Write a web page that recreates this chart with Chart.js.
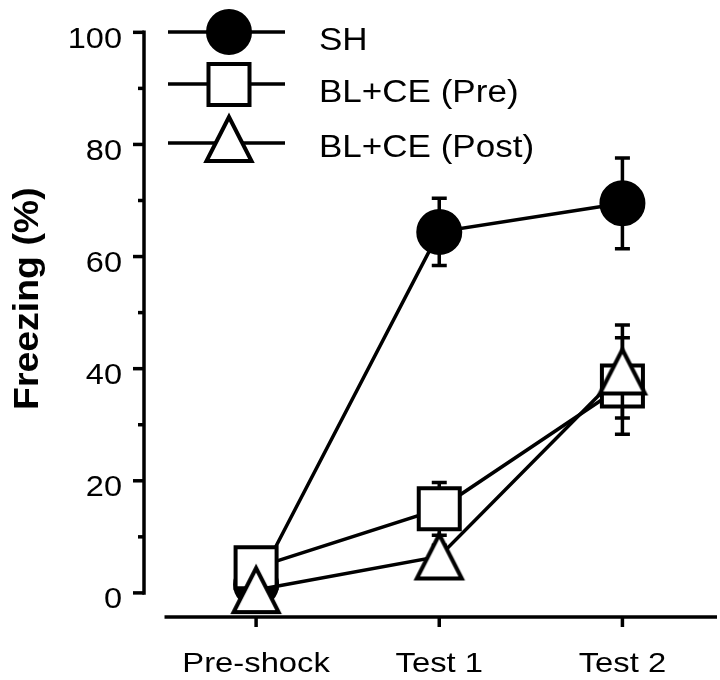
<!DOCTYPE html>
<html>
<head>
<meta charset="utf-8">
<script src="https://cdn.jsdelivr.net/npm/chart.js@4"></script>
<style>
  html, body { margin: 0; padding: 0; background: #fff; }
  #wrap { width: 720px; height: 680px; }
</style>
</head>
<body>
<div id="wrap"><canvas id="freezingChart" width="720" height="680"></canvas></div>
<script>
// data
const categories = ['Pre-shock', 'Test 1', 'Test 2'];
const seriesNames = ['SH', 'BL+CE (Pre)', 'BL+CE (Post)'];
const shMean = [1.5, 64.4, 69.5];
const shErr = [1, 6, 8.1];
const preMean = [4.5, 15, 36.9];
const preErr = [1, 4.7, 8.6];
const postMean = [0.5, 6.5, 39.5];
const postErr = [1, 2, 8.3];
const yTicks = [0, 20, 40, 60, 80, 100];
const yMinorTicks = [10, 30, 50, 70, 90];
const yTitle = 'Freezing (%)';

const FONT = '"Liberation Sans", Arial, Helvetica, sans-serif';
const LW = 3.5;

// the scanned figure's lettering is a little wider than Arial, so stretch it
function stretchText(ctx, text, x, y, size, align, sx, weight) {
    ctx.save();
    ctx.font = (weight || 'normal') + ' ' + size + 'px ' + FONT;
    ctx.fillStyle = '#000';
    ctx.textBaseline = 'alphabetic';
    ctx.textAlign = 'left';
    const w = ctx.measureText(text).width * sx;
    let x0 = x;
    if (align === 'center') x0 = x - w / 2;
    if (align === 'right') x0 = x - w;
    ctx.translate(x0, y);
    ctx.scale(sx, 1);
    ctx.fillText(text, 0, 0);
    ctx.restore();
}

// open triangle, a bit taller than equilateral like the original
function makeTriangle() {
    const c = document.createElement('canvas');
    c.width = 54; c.height = 54;
    const g = c.getContext('2d');
    g.beginPath();
    g.moveTo(27, 5);
    g.lineTo(49.5, 49);
    g.lineTo(4.5, 49);
    g.closePath();
    g.fillStyle = '#fff';
    g.fill();
    g.lineWidth = 4;
    g.lineJoin = 'miter';
    g.strokeStyle = '#000';
    g.stroke();
    return c;
}
const triangleImg = makeTriangle();

function points(arr) {
    return arr.map((v, i) => ({ x: i, y: v }));
}

const markerStyles = [
    { pointStyle: 'circle', radius: 22, borderWidth: 2, backgroundColor: '#000' },
    { pointStyle: 'rect', radius: 29, borderWidth: 4, backgroundColor: '#fff' },
    { pointStyle: triangleImg, radius: 27, borderWidth: 4, backgroundColor: '#fff' }
];
const errors = [shErr, preErr, postErr];

const axesPlugin = {
    id: 'axesPlugin',
    beforeDatasetsDraw(chart) {
        const ctx = chart.ctx;
        const x = chart.scales.x, y = chart.scales.y;
        const left = chart.chartArea.left;
        const bottom = chart.chartArea.bottom;
        ctx.save();
        ctx.strokeStyle = '#000';
        ctx.lineWidth = LW;
        ctx.lineCap = 'butt';
        // y axis line
        ctx.beginPath();
        ctx.moveTo(left, y.getPixelForValue(100) - 1.75);
        ctx.lineTo(left, y.getPixelForValue(0) + 1.75);
        ctx.stroke();
        yTicks.forEach(v => {
            const py = y.getPixelForValue(v);
            ctx.beginPath();
            ctx.moveTo(left - 11, py);
            ctx.lineTo(left, py);
            ctx.stroke();
            stretchText(ctx, String(v), left - 22, py + 15.5, 29, 'right', 1.12);
        });
        yMinorTicks.forEach(v => {
            const py = y.getPixelForValue(v);
            ctx.beginPath();
            ctx.moveTo(left - 6, py);
            ctx.lineTo(left, py);
            ctx.stroke();
        });
        // x axis line
        ctx.beginPath();
        ctx.moveTo(x.getPixelForValue(-0.5), bottom);
        ctx.lineTo(x.getPixelForValue(2.5) + 3, bottom);
        ctx.stroke();
        categories.forEach((c, i) => {
            const px = x.getPixelForValue(i);
            ctx.beginPath();
            ctx.moveTo(px, bottom);
            ctx.lineTo(px, bottom + 10);
            ctx.stroke();
            stretchText(ctx, c, px, 672, 28, 'center', 1.17);
        });
        // axis title
        ctx.save();
        ctx.translate(38, 410);
        ctx.rotate(-Math.PI / 2);
        stretchText(ctx, yTitle, 0, 0, 35, 'left', 1.07, 'bold');
        ctx.restore();
        ctx.restore();
    },
    // error bars sit just under each series' markers
    beforeDatasetDraw(chart, args) {
        const ctx = chart.ctx;
        const x = chart.scales.x, y = chart.scales.y;
        const ds = chart.data.datasets[args.index];
        const err = errors[args.index];
        ctx.save();
        ctx.strokeStyle = '#000';
        ctx.lineWidth = LW;
        ds.data.forEach((p, i) => {
            const px = x.getPixelForValue(p.x);
            const top = y.getPixelForValue(p.y + err[i]);
            const bot = y.getPixelForValue(p.y - err[i]);
            ctx.beginPath();
            ctx.moveTo(px, top);
            ctx.lineTo(px, bot);
            ctx.moveTo(px - 7.5, top);
            ctx.lineTo(px + 7.5, top);
            ctx.moveTo(px - 7.5, bot);
            ctx.lineTo(px + 7.5, bot);
            ctx.stroke();
        });
        ctx.restore();
    },
    afterDraw(chart) {
        // legend: line with marker in the middle, label to the right
        const ctx = chart.ctx;
        const rows = [32, 84, 143];
        const markerY = [32, 84.5, 139];
        const baselines = [50, 102, 157];
        ctx.save();
        seriesNames.forEach((name, i) => {
            ctx.strokeStyle = '#000';
            ctx.lineWidth = LW;
            ctx.beginPath();
            ctx.moveTo(168, rows[i]);
            ctx.lineTo(285, rows[i]);
            ctx.stroke();
            const m = markerStyles[i];
            ctx.fillStyle = m.backgroundColor;
            ctx.lineWidth = m.borderWidth;
            Chart.helpers.drawPoint(ctx, {
                pointStyle: m.pointStyle, radius: m.radius, borderWidth: m.borderWidth, rotation: 0
            }, 229, markerY[i]);
            stretchText(ctx, name, 319, baselines[i], 31, 'left', 1.13);
        });
        ctx.restore();
    }
};

const ctx = document.getElementById('freezingChart');
const freezingChart = new Chart(ctx, {
    type: 'line',
    data: {
        datasets: [
            { label: seriesNames[0], data: points(shMean), order: 3 },
            { label: seriesNames[1], data: points(preMean), order: 2 },
            { label: seriesNames[2], data: points(postMean), order: 1 }
        ].map((d, i) => Object.assign(d, {
            borderColor: '#000',
            borderWidth: LW,
            tension: 0,
            pointStyle: markerStyles[i].pointStyle,
            pointRadius: markerStyles[i].radius,
            pointBorderWidth: markerStyles[i].borderWidth,
            pointBorderColor: '#000',
            pointBackgroundColor: markerStyles[i].backgroundColor,
            clip: false
        }))
    },
    options: {
        responsive: false,
        animation: false,
        layout: { autoPadding: false, padding: { top: 20, right: 6, bottom: 0, left: 0 } },
        plugins: {
            legend: { display: false },
            tooltip: { enabled: false }
        },
        scales: {
            x: {
                type: 'linear',
                min: -0.612,
                max: 2.5,
                afterBuildTicks: s => { s.ticks = categories.map((c, i) => ({ value: i })); },
                afterFit: s => {
                    s.height = 63;
                    s.paddingLeft = 0; s.paddingRight = 0;
                },
                grid: { display: false, drawTicks: false },
                border: { display: false },
                ticks: { display: false }
            },
            y: {
                min: -4.3,
                max: 102.2,
                afterBuildTicks: s => { s.ticks = yTicks.map(v => ({ value: v })); },
                afterFit: s => {
                    s.width = 144;
                    s.paddingTop = 0; s.paddingBottom = 0;
                },
                grid: { display: false, drawTicks: false },
                border: { display: false },
                ticks: { display: false }
            }
        }
    },
    plugins: [axesPlugin]
});
</script>
</body>
</html>
